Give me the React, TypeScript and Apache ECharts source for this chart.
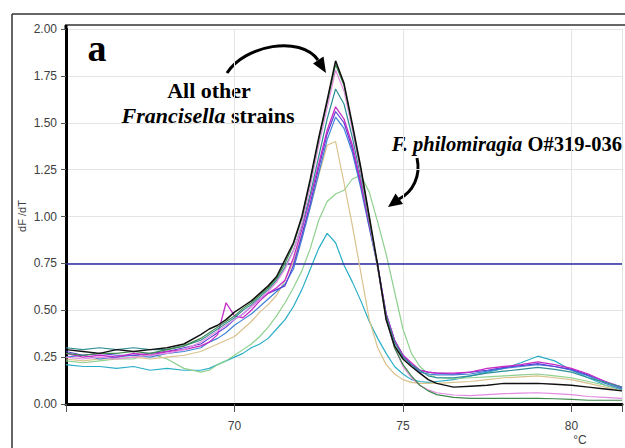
import React, { useEffect, useRef } from "react";
import * as echarts from "echarts";

const temps = [65, 65.5, 66, 66.5, 67, 67.5, 68, 68.5,
  69, 69.25, 69.5, 69.75, 70, 70.25, 70.5, 70.75, 71, 71.25, 71.5, 71.75, 72, 72.25, 72.5, 72.75, 73, 73.25, 73.5, 73.75, 74, 74.25, 74.5, 74.75, 75, 75.25, 75.5, 75.75, 76,
  76.5, 77, 77.5, 78, 78.5, 79, 79.5, 80, 80.5, 81, 81.5];

const blackCurve = [0.29, 0.28, 0.27, 0.29, 0.28, 0.29, 0.30, 0.32,
  0.37, 0.40, 0.42, 0.45, 0.49, 0.52, 0.55, 0.59, 0.63, 0.68, 0.77, 0.86, 1.00, 1.20, 1.42, 1.62, 1.83, 1.71, 1.49, 1.26, 1.00, 0.74, 0.45, 0.31, 0.24, 0.20, 0.165, 0.13, 0.11,
  0.09, 0.095, 0.10, 0.11, 0.11, 0.11, 0.105, 0.10, 0.09, 0.08, 0.07];
const darkGreenCurve = [0.27, 0.26, 0.27, 0.27, 0.28, 0.27, 0.29, 0.31,
  0.35, 0.38, 0.41, 0.44, 0.47, 0.51, 0.54, 0.58, 0.62, 0.67, 0.75, 0.85, 0.99, 1.19, 1.41, 1.61, 1.81, 1.70, 1.48, 1.25, 0.99, 0.73, 0.46, 0.30, 0.21, 0.15, 0.10, 0.07, 0.05,
  0.035, 0.03, 0.03, 0.03, 0.03, 0.03, 0.028, 0.025, 0.02, 0.02, 0.02];
const pinkCurve = [0.25, 0.24, 0.25, 0.24, 0.25, 0.26, 0.27, 0.29,
  0.33, 0.36, 0.39, 0.42, 0.45, 0.48, 0.52, 0.56, 0.60, 0.65, 0.72, 0.82, 0.96, 1.16, 1.38, 1.58, 1.78, 1.67, 1.46, 1.23, 0.98, 0.72, 0.45, 0.30, 0.20, 0.14, 0.10, 0.075, 0.06,
  0.048, 0.045, 0.05, 0.055, 0.058, 0.06, 0.055, 0.05, 0.04, 0.035, 0.03];
const tealCurve = [0.30, 0.29, 0.30, 0.29, 0.30, 0.29, 0.29, 0.31,
  0.34, 0.37, 0.40, 0.43, 0.46, 0.50, 0.53, 0.57, 0.61, 0.66, 0.73, 0.82, 0.95, 1.12, 1.32, 1.52, 1.68, 1.60, 1.42, 1.21, 0.97, 0.73, 0.47, 0.33, 0.25, 0.21, 0.18, 0.15, 0.14,
  0.14, 0.15, 0.165, 0.175, 0.185, 0.195, 0.185, 0.17, 0.14, 0.115, 0.09];
const magentaCurve = [0.27, 0.25, 0.26, 0.25, 0.27, 0.26, 0.28, 0.29,
  0.31, 0.33, 0.37, 0.54, 0.47, 0.46, 0.50, 0.55, 0.59, 0.62, 0.66, 0.78, 0.93, 1.10, 1.28, 1.46, 1.585, 1.52, 1.38, 1.18, 0.96, 0.74, 0.48, 0.34, 0.26, 0.22, 0.18, 0.17, 0.165,
  0.165, 0.17, 0.19, 0.20, 0.21, 0.225, 0.21, 0.19, 0.16, 0.12, 0.09];
const blueCurve = [0.25, 0.26, 0.24, 0.25, 0.26, 0.25, 0.27, 0.28,
  0.30, 0.33, 0.35, 0.38, 0.42, 0.45, 0.48, 0.52, 0.56, 0.60, 0.64, 0.72, 0.88, 1.05, 1.23, 1.41, 1.53, 1.47, 1.34, 1.15, 0.94, 0.73, 0.48, 0.34, 0.26, 0.21, 0.17, 0.16, 0.155,
  0.155, 0.16, 0.175, 0.19, 0.20, 0.21, 0.20, 0.18, 0.15, 0.11, 0.08];
const purpleCurve = [0.28, 0.26, 0.27, 0.26, 0.26, 0.27, 0.28, 0.30,
  0.32, 0.35, 0.38, 0.41, 0.45, 0.48, 0.52, 0.56, 0.59, 0.61, 0.63, 0.74, 0.90, 1.07, 1.26, 1.44, 1.56, 1.50, 1.36, 1.17, 0.95, 0.74, 0.48, 0.34, 0.26, 0.21, 0.18, 0.17, 0.165,
  0.16, 0.17, 0.18, 0.195, 0.205, 0.215, 0.20, 0.185, 0.155, 0.12, 0.085];
const tanCurve = [0.24, 0.23, 0.24, 0.24, 0.25, 0.24, 0.25, 0.26,
  0.28, 0.30, 0.32, 0.34, 0.36, 0.40, 0.44, 0.49, 0.53, 0.58, 0.66, 0.76, 0.90, 1.05, 1.22, 1.38, 1.40, 1.18, 0.95, 0.70, 0.45, 0.30, 0.21, 0.16, 0.13, 0.115, 0.11, 0.11, 0.11,
  0.115, 0.12, 0.13, 0.14, 0.145, 0.15, 0.14, 0.13, 0.11, 0.09, 0.07];
const lightGreenCurve = [0.23, 0.22, 0.23, 0.24, 0.24, 0.27, 0.24, 0.19,
  0.17, 0.18, 0.21, 0.23, 0.26, 0.29, 0.32, 0.36, 0.41, 0.47, 0.54, 0.62, 0.71, 0.83, 0.98, 1.08, 1.12, 1.14, 1.20, 1.22, 1.13, 0.97, 0.80, 0.60, 0.40, 0.27, 0.20, 0.16, 0.14,
  0.135, 0.14, 0.145, 0.15, 0.155, 0.16, 0.15, 0.14, 0.12, 0.10, 0.08];
const cyanCurve = [0.21, 0.20, 0.20, 0.19, 0.20, 0.18, 0.19, 0.18,
  0.18, 0.19, 0.21, 0.23, 0.25, 0.27, 0.30, 0.32, 0.35, 0.40, 0.45, 0.52, 0.61, 0.72, 0.83, 0.91, 0.86, 0.74, 0.65, 0.55, 0.44, 0.35, 0.27, 0.20, 0.16, 0.13, 0.12, 0.115, 0.12,
  0.13, 0.15, 0.17, 0.19, 0.22, 0.255, 0.23, 0.18, 0.14, 0.10, 0.075];

const thresholdValue = 0.75;
const xTickLabels = [70, 75, 80];

const curves = [
  { name: "cyan", color: "#2aaec6", data: cyanCurve, width: 1.2 },
  { name: "lightGreen", color: "#8fd08f", data: lightGreenCurve, width: 1.2 },
  { name: "tan", color: "#d9c28c", data: tanCurve, width: 1.2 },
  { name: "blue", color: "#3f82d4", data: blueCurve, width: 1.2 },
  { name: "purple", color: "#5b3fd6", data: purpleCurve, width: 1.2 },
  { name: "magenta", color: "#c62bc6", data: magentaCurve, width: 1.3 },
  { name: "teal", color: "#2f8f95", data: tealCurve, width: 1.2 },
  { name: "pink", color: "#e28ae2", data: pinkCurve, width: 1.2 },
  { name: "darkGreen", color: "#3e8a4c", data: darkGreenCurve, width: 1.2 },
  { name: "black", color: "#111111", data: blackCurve, width: 1.5 },
];

const serif = '"Liberation Serif", "Times New Roman", serif';
const sans = '"Liberation Sans", Arial, sans-serif';

export default function App() {
  const ref = useRef<HTMLDivElement>(null);
  useEffect(() => {
    const chart = echarts.init(ref.current as HTMLDivElement, null, { renderer: "svg" });
    const series: any[] = curves.map((c, idx) => ({
      type: "line",
      name: c.name,
      data: temps.map((t, i) => [t, c.data[i]]),
      showSymbol: false,
      symbol: "none",
      lineStyle: { color: c.color, width: c.width },
      itemStyle: { color: c.color },
      z: 3 + idx,
      ...(idx === 0
        ? {
            markLine: {
              silent: true,
              symbol: "none",
              label: { show: false },
              lineStyle: { color: "#2a2aa0", width: 1.5, type: "solid" },
              data: [{ yAxis: thresholdValue }],
            },
          }
        : {}),
    }));

    const option: any = {
      animation: false,
      backgroundColor: "#ffffff",
      grid: { left: 66, right: -2, top: 29, bottom: 44 },
      xAxis: {
        type: "value",
        min: 65,
        max: 81.5,
        interval: 5,
        axisLine: { show: true, onZero: false, lineStyle: { color: "#000", width: 3 } },
        axisTick: { show: true, length: 8, lineStyle: { color: "#555" } },
        axisLabel: {
          formatter: (v: number) => (xTickLabels.includes(v) ? String(v) : ""),
          color: "#404040",
          fontSize: 12,
          fontFamily: sans,
          margin: 16,
        },
        splitLine: { show: true, lineStyle: { color: "#e4e4e4", width: 1 } },
      },
      yAxis: {
        type: "value",
        min: 0,
        max: 2,
        interval: 0.25,
        axisLine: { show: true, lineStyle: { color: "#000", width: 3 } },
        axisTick: { show: true, length: 5, lineStyle: { color: "#555" } },
        axisLabel: {
          formatter: (v: number) => v.toFixed(2),
          color: "#404040",
          fontSize: 12,
          fontFamily: sans,
          margin: 9,
        },
        splitLine: { show: true, lineStyle: { color: "#e4e4e4", width: 1 } },
      },
      series,
      graphic: [
        { type: "line", shape: { x1: 12, y1: 14, x2: 625, y2: 14 }, style: { stroke: "#333", lineWidth: 1.5 } },
        { type: "line", shape: { x1: 12, y1: 14, x2: 12, y2: 448 }, style: { stroke: "#333", lineWidth: 1.5 } },
        { type: "line", shape: { x1: 65, y1: 25, x2: 625, y2: 25 }, style: { stroke: "#333", lineWidth: 1.5 } },
        { type: "line", shape: { x1: 66, y1: 25, x2: 66, y2: 30 }, style: { stroke: "#000", lineWidth: 3 } },
        {
          type: "text", x: 97, y: 48,
          style: { text: "a", fontSize: 38, fontWeight: "bold", fontFamily: serif, fill: "#000", align: "center", verticalAlign: "middle" },
        },
        {
          type: "text", x: 209, y: 90,
          style: { text: "All other", fontSize: 22, fontWeight: "bold", fontFamily: serif, fill: "#000", align: "center", verticalAlign: "middle" },
        },
        {
          type: "text", x: 208, y: 115,
          style: {
            text: "{i|Francisella} strains",
            fontSize: 22, fontWeight: "bold", fontFamily: serif, fill: "#000", align: "center", verticalAlign: "middle",
            rich: { i: { fontSize: 22, fontWeight: "bold", fontStyle: "italic", fontFamily: serif, fill: "#000" } },
          },
        },
        {
          type: "text", x: 622, y: 144,
          style: {
            text: "{i|F. philomiragia} O#319-036",
            fontSize: 20.5, fontWeight: "bold", fontFamily: serif, fill: "#000", align: "right", verticalAlign: "middle",
            rich: { i: { fontSize: 20.5, fontWeight: "bold", fontStyle: "italic", fontFamily: serif, fill: "#000" } },
          },
        },
        {
          type: "bezierCurve",
          shape: { x1: 227, y1: 73, cpx1: 245, cpy1: 45, cpx2: 300, cpy2: 35, x2: 318, y2: 60 },
          style: { stroke: "#000", lineWidth: 3, fill: "none" },
        },
        {
          type: "polygon",
          shape: { points: [[326, 73], [313, 63.5], [323.5, 56.5]] },
          style: { fill: "#000" },
        },
        {
          type: "bezierCurve",
          shape: { x1: 417, y1: 158, cpx1: 421, cpy1: 176, cpx2: 413, cpy2: 192, x2: 399, y2: 199 },
          style: { stroke: "#000", lineWidth: 3, fill: "none" },
        },
        {
          type: "polygon",
          shape: { points: [[388, 207], [395.5, 193.5], [403, 204]] },
          style: { fill: "#000" },
        },
        {
          type: "text", x: 580, y: 440,
          style: { text: "°C", fontSize: 12, fontFamily: sans, fill: "#404040", align: "center", verticalAlign: "middle" },
        },
        {
          type: "text", x: 22, y: 216, rotation: Math.PI / 2,
          style: { text: "dF /dT", fontSize: 11, fontFamily: sans, fill: "#404040", align: "center", verticalAlign: "middle" },
        },
      ],
    };
    chart.setOption(option);
    return () => chart.dispose();
  }, []);
  return (
    <div
      ref={ref}
      style={{ position: "fixed", left: 0, top: 0, width: 625, height: 448, background: "#fff" }}
    />
  );
}
